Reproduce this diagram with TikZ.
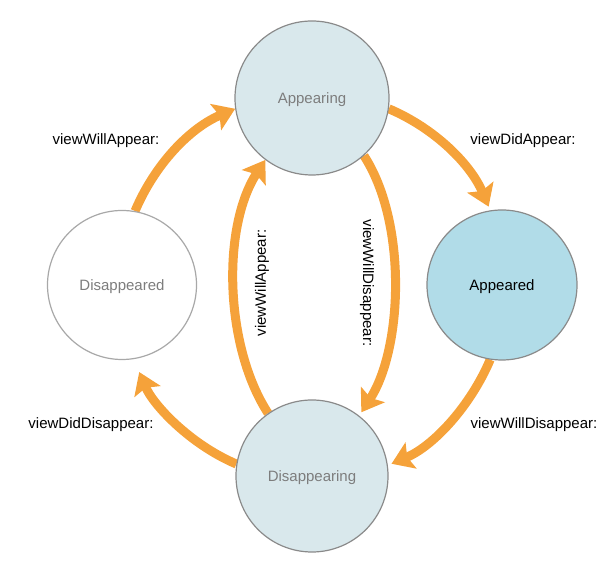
\documentclass[tikz,border=0pt]{standalone}
\usepackage{fontspec}
\setmainfont{Liberation Sans}
\usetikzlibrary{arrows.meta,backgrounds}

\definecolor{flow}{RGB}{245,162,58}
\definecolor{paleblue}{RGB}{217,232,236}
\definecolor{skyblue}{RGB}{177,220,232}
\definecolor{stateedge}{RGB}{138,138,138}
\definecolor{lightedge}{RGB}{168,168,168}
\definecolor{statetext}{RGB}{125,125,125}

\begin{document}
\begin{tikzpicture}[x=1pt,y=1pt,
  state/.style={circle, draw=stateedge, line width=1.2pt, inner sep=0pt,
    text depth=0pt, font=\fontsize{15}{18}\selectfont, text=statetext},
  flowarrow/.style={draw=flow, line width=9pt,
    -{Stealth[length=21pt,width=28pt,inset=4pt]}, shorten >=4pt},
  tlabel/.style={inner sep=0pt, font=\fontsize{15}{18}\selectfont, text=black}]
\useasboundingbox (0,0) rectangle (616,572);

% view states
\node[state, fill=paleblue, minimum size=154pt] (appearing) at (312,474) {Appearing};
\node[state, fill=skyblue, text=black, minimum size=150pt] (appeared) at (502,287) {Appeared};
\node[state, fill=paleblue, minimum size=152pt] (disappearing) at (312,96) {Disappearing};
\node[state, fill=white, draw=lightedge, minimum size=149pt] (disappeared) at (122,287) {Disappeared};

% transitions
\begin{scope}[on background layer]
  \draw[flowarrow, shorten >=0pt] (disappeared.80.5) .. controls +(67:50) and +(203:50) .. (appearing.188.5);
  \draw[flowarrow] (appearing.-8.5) .. controls +(-23:50) and +(113:50) .. (appeared.99.5);
  \draw[flowarrow] (appeared.-99) .. controls +(-113:50) and +(23:50) .. (disappearing.8.5);
  \draw[flowarrow, shorten >=14pt] (disappearing.171.5) .. controls +(157:50) and +(-67:50) .. (disappeared.-81);
  \draw[flowarrow, shorten >=0pt] (disappearing.125) .. controls +(123:80) and +(237:80) .. (appearing.233);
  \draw[flowarrow] (appearing.-48) .. controls +(-57:80) and +(57:80) .. (disappearing.52);
\end{scope}

% callbacks
\node[tlabel] (willAppearOuter) at (106,431) {viewWillAppear:};
\node[tlabel] (didAppear) at (523,431) {viewDidAppear:};
\node[tlabel] (didDisappear) at (91,147) {viewDidDisappear:};
\node[tlabel] (willDisappearOuter) at (534,147) {viewWillDisappear:};
\node[tlabel, rotate=90] (willAppearInner) at (262,289) {viewWillAppear:};
\node[tlabel, rotate=-90] (willDisappearInner) at (367,289) {viewWillDisappear:};
\end{tikzpicture}
\end{document}
